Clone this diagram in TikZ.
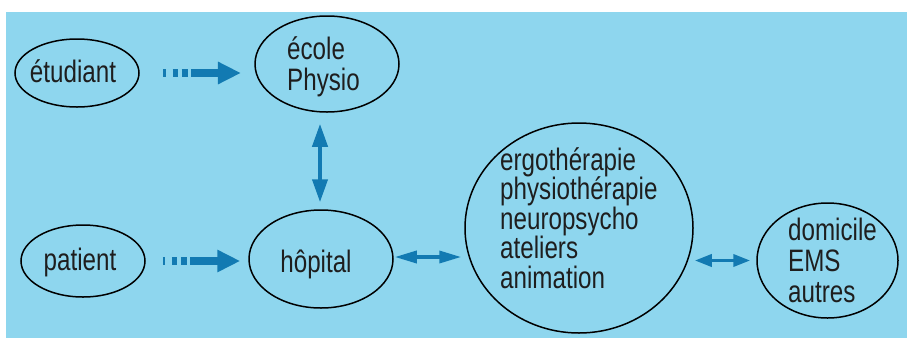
\documentclass[tikz,border=0pt]{standalone}
\usepackage{fontspec}
\setmainfont{Liberation Sans}[FakeStretch=0.78]
\usetikzlibrary{shapes.geometric,arrows.meta}
\definecolor{bgblue}{RGB}{142,214,238}
\definecolor{arrblue}{RGB}{18,122,178}
\definecolor{txt}{RGB}{30,30,30}
\begin{document}
\begin{tikzpicture}[x=1pt,y=-1pt,
  oval/.style={draw=black,line width=1.5pt,ellipse,inner sep=0pt},
  lbl/.style={inner sep=0pt,text=txt,font=\fontsize{31}{29.5}\selectfont},
  fatarrow/.style={draw=arrblue,line width=8pt,
    dash pattern=on 2.7pt off 6.4pt on 5.6pt off 3.4pt on 6.6pt off 2.7pt on 300pt,
    -{Triangle[length=23pt,width=21pt]}},
  dblarrow/.style={draw=arrblue,line width=3.5pt,
    {Triangle[length=22pt,width=12pt]}-{Triangle[length=22pt,width=12pt]}}]
\useasboundingbox (0,0) rectangle (907,338);
\fill[bgblue] (6,12) rectangle (907,338);
% ovals
\node[oval,minimum width=124pt,minimum height=68pt] (stud) at (77,73) {};
\node[oval,minimum width=144pt,minimum height=96pt] (ecole) at (327,64) {};
\node[oval,minimum width=124pt,minimum height=72pt] (pat) at (83,261) {};
\node[oval,minimum width=144pt,minimum height=98pt] (hop) at (321,259) {};
\node[oval,minimum width=228pt,minimum height=210pt] (circ) at (579,228) {};
\node[oval,minimum width=141pt,minimum height=115pt] (dom) at (827.5,260.5) {};
% labels (base anchor of a multi-line label = baseline of its last line)
\node[lbl,anchor=base] (tstud) at (73,82) {étudiant};
\node[lbl,anchor=base west,align=left,font=\fontsize{31}{31}\selectfont] (tecole) at (287,90) {école\\Physio};
\node[lbl,anchor=base] (tpat) at (80,270) {patient};
\node[lbl,anchor=base] (thop) at (316,272) {hôpital};
\node[lbl,anchor=base west,align=left] (tcirc) at (500,288) {ergothérapie\\physiothérapie\\neuropsycho\\ateliers\\animation};
\node[lbl,anchor=base west,align=left,font=\fontsize{31}{31}\selectfont] (tdom) at (788,302) {domicile\\EMS\\autres};
% connectors
\draw[fatarrow,shorten <=23.7pt,shorten >=13.3pt] (stud.east) -- (stud.east -| ecole.west);
\draw[fatarrow,shorten <=17pt,shorten >=8pt] (pat.east) -- (pat.east -| hop.west);
\draw[draw=arrblue,line width=4pt,
  {Triangle[length=23pt,width=15pt]}-{Triangle[length=23pt,width=15pt]},
  shorten <=11pt,shorten >=7pt] ([xshift=-1pt]hop.north |- ecole.south) -- ([xshift=-1pt]hop.north);
\draw[dblarrow,shorten <=1pt,shorten >=3pt] ([yshift=2pt]hop.east) -- ([yshift=2pt]hop.east -| circ.west);
\draw[dblarrow,{Triangle[length=17pt,width=12pt]}-{Triangle[length=17pt,width=12pt]},
  shorten <=1pt,shorten >=6pt] (circ.east |- dom.west) -- (dom.west);
\end{tikzpicture}
\end{document}
